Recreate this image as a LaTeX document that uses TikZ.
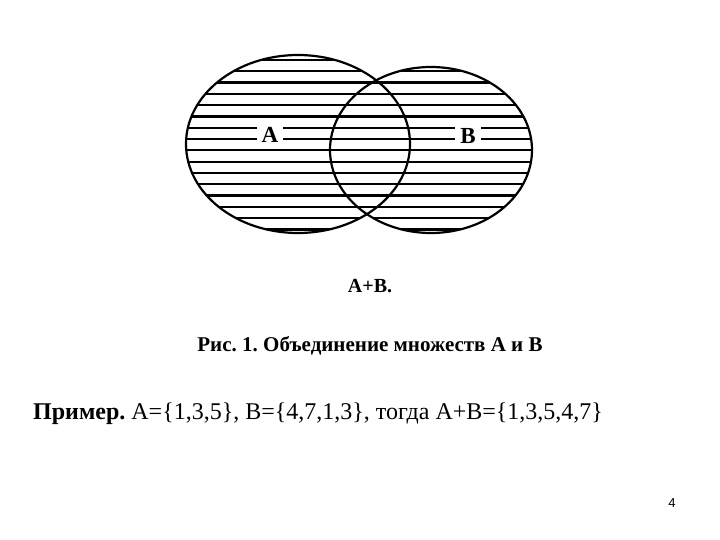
\documentclass[tikz,border=0pt]{standalone}
\usepackage{fontspec}
\setmainfont{Liberation Serif}[BoldFont={Liberation Serif Bold}]
\newfontfamily\pagefont{Liberation Sans}
\usetikzlibrary{shapes,positioning}
\frenchspacing

\begin{document}
\begin{tikzpicture}[x=1pt,y=-1pt,inner sep=0pt,
                    hatch/.style={line width=2.2pt},
                    rim/.style={line width=2.2pt},
                    setname/.style={fill=white,inner xsep=5pt,inner ysep=1pt,font=\fontsize{23}{23}\selectfont\bfseries}]
    \useasboundingbox (0,0) rectangle (720,540);

    % hatching of A and B
    \begin{scope}
        \clip (298,144) ellipse (112 and 89) (431,150) ellipse (101 and 83);
        \foreach \y in {60,71.3,...,235}
            \draw [hatch] (180,\y) -- (540,\y);
    \end{scope}
    \draw [rim] (298,144) ellipse (112 and 89);
    \draw [rim] (431,150) ellipse (101 and 83);

    \node at (270,135) (A) [setname] {A};
    \node at (468,136) (B) [setname] {B};

    \node at (370,286) (sum)     [font=\fontsize{20}{20}\selectfont\bfseries] {A+B.};
    \node at (370,346) (caption) [font=\fontsize{21}{21}\selectfont\bfseries] {Рис. 1. Объединение множеств А и В};
    \node at (33,414)  (example) [anchor=west,font=\fontsize{24}{24}\selectfont]
        {\textbf{Пример.} A=\{1,3,5\}, B=\{4,7,1,3\}, тогда A+B=\{1,3,5,4,7\}};
    \node at (672,503) (page)    [font=\fontsize{13}{13}\pagefont] {4};
\end{tikzpicture}
\end{document}
